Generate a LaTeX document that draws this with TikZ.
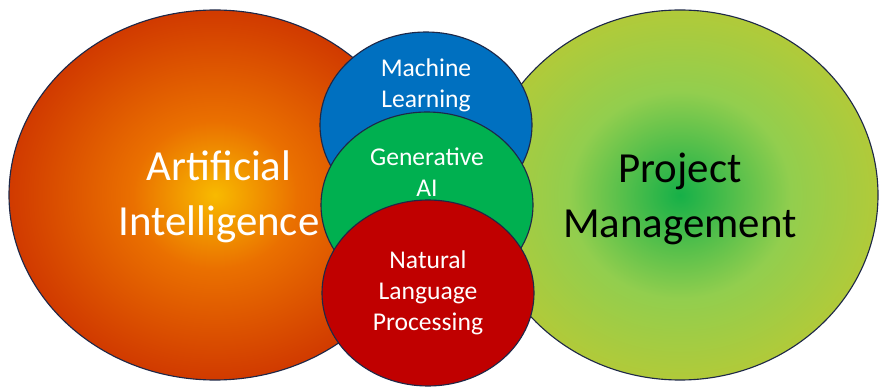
\documentclass[tikz,border=0pt]{standalone}
\usepackage{fontspec}
\setmainfont{Carlito}
\usepackage{xcolor}
\usepackage{tikz}
\usetikzlibrary{positioning,shapes.geometric}

\definecolor{edgeblue}{RGB}{30,40,72}
\definecolor{mlblue}{RGB}{0,112,192}
\definecolor{gengreen}{RGB}{0,176,80}
\definecolor{nlpred}{RGB}{192,0,0}
\definecolor{aicore}{RGB}{248,186,0}
\definecolor{aimid}{RGB}{234,112,0}
\definecolor{airim}{RGB}{200,40,0}
\definecolor{pmcore}{RGB}{22,176,72}
\definecolor{pmmid}{RGB}{146,206,78}
\definecolor{pmrim}{RGB}{194,200,46}

\pgfdeclareradialshading{aiglow}{\pgfpoint{0bp}{0bp}}{%
  color(0bp)=(aicore); color(10bp)=(aimid); color(30bp)=(airim); color(50bp)=(airim)}
\pgfdeclareradialshading{pmglow}{\pgfpoint{0bp}{0bp}}{%
  color(0bp)=(pmcore); color(14bp)=(pmmid); color(31bp)=(pmrim); color(50bp)=(pmrim)}

\begin{document}
\begin{tikzpicture}[
    blob/.style={ellipse, draw=edgeblue, line width=0.8pt, inner sep=0pt},
    bubble/.style={blob, minimum width=5.3cm, minimum height=4.65cm},
    bigtext/.style={font=\fontsize{30.5}{39}\selectfont, align=center},
    smalltext/.style={text=white, font=\fontsize{18.2}{22}\selectfont, align=center}
]
\useasboundingbox[fill=white] (0,0) rectangle (22,9.725);

% the two large fields
\node[blob, shading=aiglow, minimum width=10.3cm, minimum height=9.25cm] (ai) at (5.375,4.85) {};
\node[blob, shading=pmglow, minimum width=9.9cm, minimum height=9.25cm] (pm) at (17.0,4.85) {};
\node[bigtext, text=white] (aitext) at ([xshift=0.1cm, yshift=-0.05cm]ai.center) {Artificial\\Intelligence};
\node[bigtext, text=black] (pmtext) at ([yshift=-0.1cm]pm.center) {Project\\Management};

% the stacked bubbles in between
\node[bubble, fill=mlblue] (ml) at (10.65,6.6) {};
\node[smalltext] (mltext) at ([yshift=1.0cm]ml.center) {Machine\\Learning};

\node[bubble, fill=gengreen] (gen) at (10.675,4.6) {};
\node[smalltext] (gentext) at ([yshift=0.83cm]gen.center) {Generative\\AI};

\node[bubble, fill=nlpred] (nlp) at (10.7,2.4) {};
\node[smalltext] (nlptext) at (nlp.center) {Natural\\Language\\Processing};

\end{tikzpicture}
\end{document}
